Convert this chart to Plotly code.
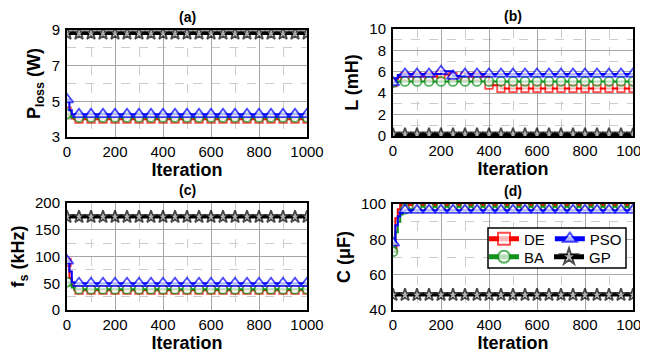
import plotly.graph_objects as go

# ---------------- data ----------------
ITER = [0, 10, 20, 30, 40, 50, 100, 150, 200, 250, 300, 350, 400, 450,
        500, 550, 600, 650, 700, 750, 800, 850, 900, 950, 1000]

# (a) Ploss (W)
PLOSS_DE = [4.45, 4.2, 4.05, 4.0, 4.0, 4.0, 4.0, 4.0, 4.0, 4.0, 4.0, 4.0, 4.0, 4.0,
            4.0, 4.0, 4.0, 4.0, 4.0, 4.0, 4.0, 4.0, 4.0, 4.0, 4.0]
PLOSS_BA = [4.3, 4.15, 4.1, 4.1, 4.1, 4.1, 4.1, 4.1, 4.1, 4.1, 4.1, 4.1, 4.1, 4.1,
            4.1, 4.1, 4.1, 4.1, 4.1, 4.1, 4.1, 4.1, 4.1, 4.1, 4.1]
PLOSS_PSO = [5.1, 4.5, 4.27, 4.27, 4.27, 4.27, 4.27, 4.27, 4.27, 4.27, 4.27, 4.27, 4.27, 4.27,
             4.27, 4.27, 4.27, 4.27, 4.27, 4.27, 4.27, 4.27, 4.27, 4.27, 4.27]
PLOSS_GP = [8.8, 8.8, 8.8, 8.8, 8.8, 8.8, 8.8, 8.8, 8.8, 8.8, 8.8, 8.8, 8.8, 8.8,
            8.8, 8.8, 8.8, 8.8, 8.8, 8.8, 8.8, 8.8, 8.8, 8.8, 8.8]

# (b) L (mH)
L_DE = [5.0, 5.3, 5.5, 5.55, 5.55, 5.55, 5.55, 5.55, 5.75, 5.55, 5.55, 5.55, 4.75, 4.45,
        4.45, 4.45, 4.45, 4.45, 4.45, 4.45, 4.45, 4.45, 4.45, 4.45, 4.45]
L_BA = [5.0, 5.05, 5.1, 5.1, 5.1, 5.1, 5.1, 5.1, 5.1, 5.1, 5.1, 5.1, 5.1, 5.1,
        5.1, 5.1, 5.1, 5.1, 5.1, 5.1, 5.1, 5.1, 5.1, 5.1, 5.1]
L_PSO = [5.0, 5.4, 5.7, 5.75, 5.75, 5.8, 5.8, 5.8, 6.05, 5.6, 5.8, 5.8, 5.8, 5.8,
         5.8, 5.8, 5.8, 5.8, 5.8, 5.8, 5.8, 5.8, 5.8, 5.8, 5.8]
L_GP = [0.15, 0.15, 0.15, 0.15, 0.15, 0.15, 0.15, 0.15, 0.15, 0.15, 0.15, 0.15, 0.15, 0.15,
        0.15, 0.15, 0.15, 0.15, 0.15, 0.15, 0.15, 0.15, 0.15, 0.15, 0.15]

# (c) fs (kHz)
FS_DE = [89, 60, 45, 38, 37, 37, 37, 37, 37, 37, 37, 37, 37, 37,
         37, 37, 37, 37, 37, 37, 37, 37, 37, 37, 37]
FS_BA = [52, 47, 42, 40, 39, 39, 39, 39, 39, 39, 39, 39, 39, 39,
         39, 39, 39, 39, 39, 39, 39, 39, 39, 39, 39]
FS_PSO = [92, 72, 52, 50, 50, 50, 50, 50, 50, 50, 50, 50, 50, 50,
          50, 50, 50, 50, 50, 50, 50, 50, 50, 50, 50]
FS_GP = [174, 174, 174, 174, 174, 174, 174, 174, 174, 174, 174, 174, 174, 174,
         174, 174, 174, 174, 174, 174, 174, 174, 174, 174, 174]

# (d) C (uF)
C_DE = [75, 92, 97, 99.5, 99.5, 99.5, 99.5, 99.5, 99.5, 99.5, 99.5, 99.5, 99.5, 99.5,
        99.5, 99.5, 99.5, 99.5, 99.5, 99.5, 99.5, 99.5, 99.5, 99.5, 99.5]
C_BA = [73, 84, 90, 94, 96, 97, 98.5, 98.5, 98.5, 98.5, 98.5, 98.5, 98.5, 98.5,
        98.5, 98.5, 98.5, 98.5, 98.5, 98.5, 98.5, 98.5, 98.5, 98.5, 98.5]
C_PSO = [78, 88, 93, 95, 96, 96.5, 96.5, 96.5, 96.5, 96.5, 96.5, 96.5, 96.5, 96.5,
         96.5, 96.5, 96.5, 96.5, 96.5, 96.5, 96.5, 96.5, 96.5, 96.5, 96.5]
C_GP = [48.5, 48.5, 48.5, 48.5, 48.5, 48.5, 48.5, 48.5, 48.5, 48.5, 48.5, 48.5, 48.5, 48.5,
        48.5, 48.5, 48.5, 48.5, 48.5, 48.5, 48.5, 48.5, 48.5, 48.5, 48.5]

ALGOS = ["DE", "BA", "PSO", "GP"]
PANEL_TITLES = ["(a)", "(b)", "(c)", "(d)"]
Y_TITLES = ["P<sub>loss</sub> (W)", "L (mH)", "f<sub>s</sub> (kHz)", "C (\u03bcF)"]
Y_RANGES = [[3, 9], [0, 10], [0, 200], [40, 100]]
Y_DTICK = [2, 2, 50, 20]
X_LABEL = "Iteration"

PANEL_DATA = [
    [PLOSS_DE, PLOSS_BA, PLOSS_PSO, PLOSS_GP],
    [L_DE, L_BA, L_PSO, L_GP],
    [FS_DE, FS_BA, FS_PSO, FS_GP],
    [C_DE, C_BA, C_PSO, C_GP],
]

# ---------------- styles ----------------
# the page body has an 8px margin, so the figure is 8px smaller and
# all page-pixel positions are shifted by OFF
OFF = 8
W, H = 648 - OFF, 356 - OFF
FONT = "Liberation Sans, Arial, sans-serif"
STYLE = {
    "DE": dict(color="#ff0000", symbol="square", size=7.5, lw=2, legend="legend"),
    "BA": dict(color="#11921b", symbol="circle", size=9, lw=2, legend="legend2"),
    "PSO": dict(color="#0000ff", symbol="triangle-up", size=11, lw=2, legend="legend"),
    "GP": dict(color="#000000", symbol="star", size=9.5, lw=3, legend="legend2"),
}
# plot areas in page pixels: (left, right, top, bottom)
BOXES = [(67, 307, 30, 137), (393, 633, 29, 136), (67, 307, 203, 310), (393, 633, 204, 310)]


def px(x):
    return (x - OFF) / W


def py(y):
    return (H - (y - OFF)) / H


fig = go.Figure()

for p, series in enumerate(PANEL_DATA):
    sfx = "" if p == 0 else str(p + 1)
    for name, yv in zip(ALGOS, series):
        st = STYLE[name]
        sizes = [st["size"] if it % 50 == 0 else 0 for it in ITER]
        fig.add_trace(go.Scatter(
            x=ITER, y=yv, name=name, mode="lines+markers",
            line=dict(color=st["color"], width=st["lw"], shape="hv"),
            marker=dict(symbol=st["symbol"], size=sizes, color="white",
                        line=dict(color=st["color"], width=1.8)),
            xaxis="x" + sfx, yaxis="y" + sfx,
            showlegend=(p == 3), legend=st["legend"],
        ))

layout = dict(
    width=W, height=H, margin=dict(l=0, r=0, t=0, b=0, autoexpand=False),
    paper_bgcolor="white", plot_bgcolor="white",
    font=dict(family=FONT, color="black", size=15),
    showlegend=True,
)

for p in range(4):
    sfx = "" if p == 0 else str(p + 1)
    l, r, t, b = BOXES[p]
    xd = [px(l), px(r)]
    yd = [py(b), py(t)]
    common = dict(
        showline=True, linewidth=2, linecolor="black", mirror=True,
        showgrid=True, gridcolor="#a6a6a6", gridwidth=1,
        ticks="", zeroline=False, tickfont=dict(size=15, family=FONT),
        layer="above traces", automargin=False, ticklabeloverflow="allow",
    )
    layout["xaxis" + sfx] = dict(
        common, domain=xd, range=[0, 1000], dtick=200, tick0=0,
        anchor="y" + sfx,
        minor=dict(dtick=100, tick0=0, showgrid=True, gridcolor="#cccccc",
                   griddash="dash", gridwidth=1),
        title=dict(text="<b>" + X_LABEL + "</b>", font=dict(size=18, family=FONT), standoff=4),
    )
    y0, y1 = Y_RANGES[p]
    layout["yaxis" + sfx] = dict(
        common, domain=yd, range=[y0, y1], dtick=Y_DTICK[p], tick0=y0,
        anchor="x" + sfx, ticklabelstandoff=2,
        minor=dict(dtick=Y_DTICK[p] / 2, tick0=y0, showgrid=True, gridcolor="#cccccc",
                   griddash="dash", gridwidth=1),
        title=dict(text="<b>" + Y_TITLES[p] + "</b>", font=dict(size=18, family=FONT), standoff=6),
    )

annotations = []
for p in range(4):
    l, r, t, b = BOXES[p]
    annotations.append(dict(
        text="<b>" + PANEL_TITLES[p] + "</b>", x=px((l + r) / 2), y=py(t - 13),
        xref="paper", yref="paper", xanchor="center", yanchor="middle",
        showarrow=False, font=dict(size=14, family=FONT),
    ))
layout["annotations"] = annotations

leg_common = dict(
    orientation="h", xanchor="left", yanchor="middle", bgcolor="rgba(0,0,0,0)",
    borderwidth=0, font=dict(size=15, family=FONT), itemsizing="constant",
    tracegroupgap=0,
)
layout["legend"] = dict(leg_common, x=px(484), y=py(239))
layout["legend2"] = dict(leg_common, x=px(484), y=py(257))
layout["shapes"] = [dict(
    type="rect", xref="paper", yref="paper",
    x0=px(488), x1=px(626), y0=py(268), y1=py(228),
    line=dict(color="black", width=1.5), fillcolor="white", layer="above",
)]

fig.update_layout(**layout)
fig.write_html("out.html")
